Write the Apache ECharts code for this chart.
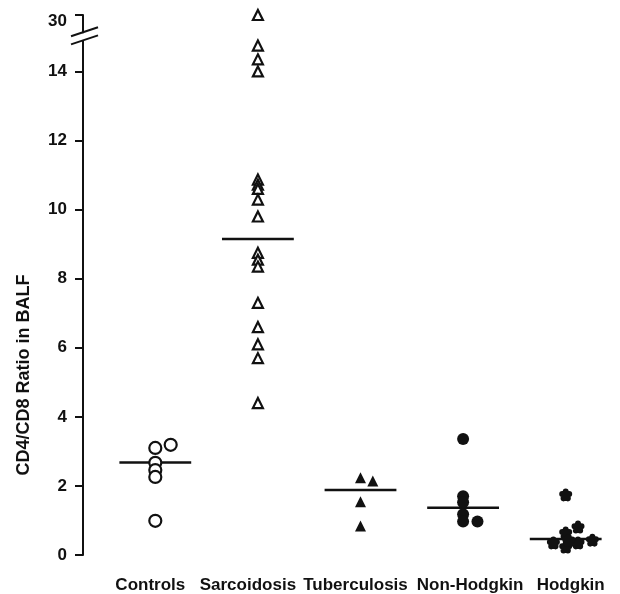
<!DOCTYPE html>
<html>
<head>
<meta charset="utf-8">
<script src="https://cdn.jsdelivr.net/npm/echarts@6/dist/echarts.min.js"></script>
<style>
  body { margin: 0; background: #fff; }
  #chart { width: 620px; height: 594px; }
</style>
</head>
<body>
<div id="chart"></div>
<script>
// groups along x
var categories = ["Controls", "Sarcoidosis", "Tuberculosis", "Non-Hodgkin", "Hodgkin"];
// [x position in group units, CD4/CD8 ratio]
var controls = [[0, 3.1], [0.15, 3.19], [0, 2.67], [0, 2.46], [0, 2.26], [0, 0.99]];
var sarcoidosis = [[1, 30], [1, 14.75], [1, 14.35], [1, 14.0], [1, 10.87], [1, 10.72], [1, 10.6],
  [1, 10.29], [1, 9.8], [1, 8.75], [1, 8.55], [1, 8.35], [1, 7.3], [1, 6.6], [1, 6.1], [1, 5.7], [1, 4.4]];
var tuberculosis = [[2, 2.24], [2.12, 2.14], [2, 1.54], [2, 0.84]];
var nonHodgkin = [[3, 3.36], [3, 1.7], [3, 1.53], [3, 1.18], [3, 0.97], [3.14, 0.97]];
var hodgkin = [[4, 1.74], [4.12, 0.81], [4, 0.64], [3.88, 0.35], [4, 0.23], [4.12, 0.35], [4.26, 0.43], [4.03, 0.42]];
// group means (horizontal bars)
var means = [2.68, 9.15, 1.88, 1.37, 0.46];
var yTicks = [0, 2, 4, 6, 8, 10, 12, 14, 30];
var yBreak = [14.9, 29.5];

var ink = "#111";
// five-lobed filled marker used for Hodgkin
var flower = "path://M6.8,6a3.2,3.2 0 1,0 6.4,0a3.2,3.2 0 1,0 -6.4,0Z" +
  "M10.6,8.76a3.2,3.2 0 1,0 6.4,0a3.2,3.2 0 1,0 -6.4,0Z" +
  "M9.15,13.24a3.2,3.2 0 1,0 6.4,0a3.2,3.2 0 1,0 -6.4,0Z" +
  "M4.45,13.24a3.2,3.2 0 1,0 6.4,0a3.2,3.2 0 1,0 -6.4,0Z" +
  "M3,8.76a3.2,3.2 0 1,0 6.4,0a3.2,3.2 0 1,0 -6.4,0Z" +
  "M6,10a4,4 0 1,0 8,0a4,4 0 1,0 -8,0Z";
// labels sit a little off the group centres in the original
var labelPad = [[0, 10, 0, 0], [0, 20, 0, 0], [0, 10, 0, 0], [0, 0, 0, 14], [0, 0, 0, 10]];

var myChart = echarts.init(document.getElementById("chart"));

function pts(data, symbol, size, filled) {
  return {
    type: "scatter",
    xAxisIndex: 1,
    data: data,
    symbol: symbol,
    symbolSize: size,
    itemStyle: {
      color: filled ? ink : "#fff",
      borderColor: ink,
      borderWidth: filled ? 0 : 2.2,
      opacity: 1
    },
    z: 5
  };
}

var series = [
  pts(controls, "circle", 12, false),
  pts(sarcoidosis, "triangle", 10, false),
  pts(tuberculosis, "triangle", 11, true),
  pts(nonHodgkin, "circle", 12, true),
  pts(hodgkin, flower, 13, true)
];
means.forEach(function (m, i) {
  series.push({
    type: "line",
    xAxisIndex: 1,
    data: [[i - 0.35, m], [i + 0.35, m]],
    symbol: "none",
    lineStyle: { color: ink, width: 2.5 },
    z: 3
  });
});

var rich = {};
labelPad.forEach(function (p, i) {
  rich["c" + i] = { color: ink, fontSize: 17, fontWeight: "bold", padding: p };
});

var option = {
  animation: false,
  backgroundColor: "#fff",
  textStyle: { fontFamily: "Liberation Sans, Arial, sans-serif" },
  grid: { left: 104, right: 3, top: 15, bottom: 39 },
  xAxis: [
    {
      type: "category",
      data: categories,
      axisLine: { show: false },
      axisTick: { show: false },
      splitLine: { show: false },
      axisLabel: {
        margin: 22, interval: 0, rich: rich,
        formatter: function (v, i) { return "{c" + i + "|" + v + "}"; }
      }
    },
    {
      type: "value",
      min: -0.5,
      max: 4.5,
      show: false,
      splitLine: { show: false }
    }
  ],
  yAxis: {
    type: "value",
    min: 0,
    max: 30,
    offset: 21,
    breaks: [{ start: yBreak[0], end: yBreak[1], gap: "1.5%" }],
    breakArea: { show: false },
    breakLabelLayout: { moveOverlap: false },
    name: "CD4/CD8 Ratio in BALF",
    nameLocation: "middle",
    nameGap: 50,
    nameTextStyle: { color: ink, fontSize: 18, fontWeight: "bold", padding: [0, 180, 0, 0] },
    axisLine: { show: true, onZero: false, lineStyle: { color: ink, width: 2 } },
    axisTick: { show: true, length: 8, customValues: yTicks, lineStyle: { color: ink, width: 2 } },
    splitLine: { show: false },
    axisLabel: {
      color: ink, fontSize: 17, fontWeight: "bold", margin: 16,
      customValues: yTicks,
      formatter: function (v) { return v === 30 ? "{top|30}" : String(v); },
      rich: { top: { color: ink, fontSize: 17, fontWeight: "bold", padding: [12, 0, 0, 0] } }
    }
  },
  series: series
};
myChart.setOption(option);

// the "//" marks where the y axis is broken, with the axis line cut between them
var ax = myChart.convertToPixel({ xAxisIndex: 1 }, -0.5) - 21;
var yLo = myChart.convertToPixel({ yAxisIndex: 0 }, yBreak[0]);
var yHi = myChart.convertToPixel({ yAxisIndex: 0 }, yBreak[1]);
var marks = [{
  type: "rect",
  shape: { x: ax - 3, y: Math.min(yLo, yHi) + 1, width: 6, height: Math.abs(yLo - yHi) - 2 },
  style: { fill: "#fff" },
  z: 9
}];
[yLo, yHi].forEach(function (y) {
  marks.push({
    type: "line",
    shape: { x1: ax - 12, y1: y + 4, x2: ax + 15, y2: y - 5 },
    style: { stroke: ink, lineWidth: 2 },
    z: 10
  });
});
myChart.setOption({ graphic: marks });
</script>
</body>
</html>
